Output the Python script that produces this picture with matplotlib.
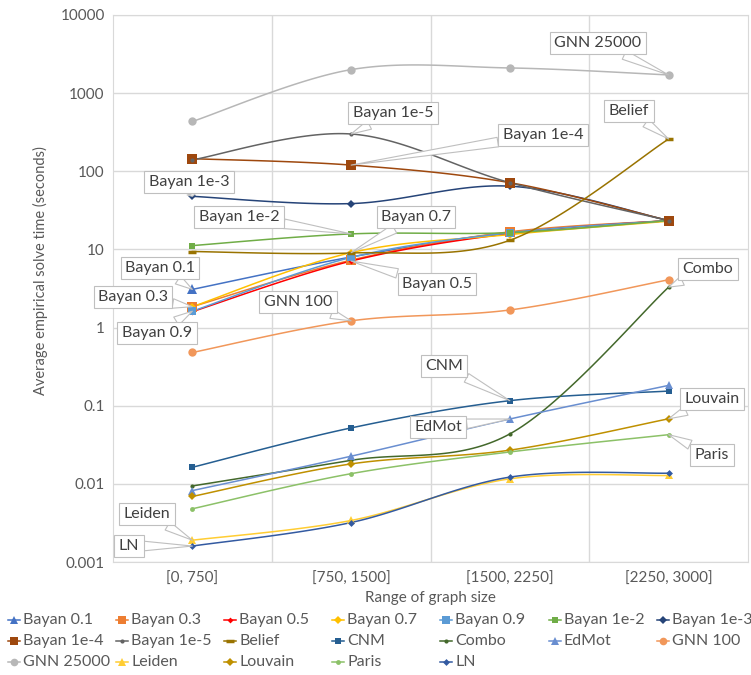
import numpy as np
import matplotlib
matplotlib.use("Agg")
import matplotlib.pyplot as plt
from matplotlib.lines import Line2D
from matplotlib.ticker import FixedLocator, FuncFormatter, NullLocator

plt.rcParams['font.family'] = ['Lato', 'DejaVu Sans']

categories = ["[0, 750]", "[750, 1500]", "[1500, 2250]", "[2250, 3000]"]

names = ["Bayan 0.1", "Bayan 0.3", "Bayan 0.5", "Bayan 0.7", "Bayan 0.9",
         "Bayan 1e-2", "Bayan 1e-3", "Bayan 1e-4", "Bayan 1e-5", "Belief",
         "CNM", "Combo", "EdMot", "GNN 100", "GNN 25000", "Leiden",
         "Louvain", "Paris", "LN"]

bayan_01 = [3.08, 8.0, 16.5, 23.4]
bayan_03 = [1.85, 7.3, 16.8, 23.4]
bayan_05 = [1.6, 7.1, 16.0, 23.4]
bayan_07 = [1.85, 9.1, 15.5, 23.0]
bayan_09 = [1.62, 7.9, 16.3, 23.4]
bayan_1e2 = [11.2, 15.8, 16.4, 23.4]
bayan_1e3 = [47.8, 38.6, 64.5, 23.4]
bayan_1e4 = [145, 120, 71.5, 23.4]
bayan_1e5 = [140, 300, 71.5, 23.4]
belief = [9.4, 9.0, 13.1, 259]
cnm = [0.0163, 0.052, 0.116, 0.154]
combo = [0.0094, 0.020, 0.0436, 3.29]
edmot = [0.0082, 0.0226, 0.0676, 0.182]
gnn_100 = [0.48, 1.22, 1.68, 4.09]
gnn_25000 = [434, 2000, 2100, 1710]
leiden = [0.0019, 0.0034, 0.0116, 0.0128]
louvain = [0.0069, 0.018, 0.027, 0.068]
paris = [0.0048, 0.0135, 0.0256, 0.0426]
ln = [0.0016, 0.0032, 0.0122, 0.0137]

series = [bayan_01, bayan_03, bayan_05, bayan_07, bayan_09, bayan_1e2,
          bayan_1e3, bayan_1e4, bayan_1e5, belief, cnm, combo, edmot,
          gnn_100, gnn_25000, leiden, louvain, paris, ln]

colors = ["#4472C4", "#ED7D31", "#FF0000", "#FFC000", "#5B9BD5", "#70AD47",
          "#264478", "#9E480E", "#636363", "#997300", "#255E91", "#43682B",
          "#698ED0", "#F1975A", "#B7B7B7", "#FFCD33", "#BF9000", "#8CC168",
          "#335AA1"]
markers = ["^", "s", "D", "D", "s", "s", "D", "s", "o", "_", "s", "o",
           "^", "o", "o", "^", "D", "o", "D"]
msizes = [7, 6.5, 3, 4.5, 6, 5, 4, 6.5, 3, 6, 5, 3, 5.5, 6, 6, 5.5, 4, 3.5, 3.5]

# callouts: (series, point index, box centre in image pixels)
callouts = [("GNN 25000", 3, 598, 43), ("Bayan 1e-5", 1, 393, 113),
            ("Bayan 1e-4", 1, 543, 135), ("Belief", 3, 629, 111),
            ("Bayan 1e-3", 0, 189, 182), ("Bayan 1e-2", 1, 239, 217),
            ("Bayan 0.7", 1, 416, 217), ("Bayan 0.1", 0, 160, 268),
            ("Bayan 0.3", 0, 133, 297), ("Bayan 0.9", 0, 157, 333),
            ("Bayan 0.5", 1, 437, 284), ("GNN 100", 1, 298, 302),
            ("Combo", 3, 708, 269), ("CNM", 2, 444, 366),
            ("EdMot", 2, 438, 427), ("Louvain", 3, 712, 399),
            ("Paris", 3, 712, 455), ("Leiden", 0, 147, 514),
            ("LN", 0, 129, 546)]

W, H = 751, 675


def smooth(ys, n=40):
    # Excel-like smoothed line (Catmull-Rom Bezier in screen space)
    p = np.column_stack([np.arange(len(ys), dtype=float), np.log10(ys)])
    xs_out, ys_out = [], []
    t = np.linspace(0, 1, n)[:, None]
    for i in range(len(p) - 1):
        p0 = p[max(i - 1, 0)]
        p1 = p[i]
        p2 = p[i + 1]
        p3 = p[min(i + 2, len(p) - 1)]
        c1 = p1 + (p2 - p0) / 6
        c2 = p2 - (p3 - p1) / 6
        b = ((1 - t) ** 3) * p1 + 3 * ((1 - t) ** 2) * t * c1 \
            + 3 * (1 - t) * t ** 2 * c2 + t ** 3 * p2
        xs_out.append(b[:, 0])
        ys_out.append(b[:, 1])
    return np.concatenate(xs_out), 10 ** np.concatenate(ys_out)


fig = plt.figure(figsize=(W / 100, H / 100), dpi=100)
ax = fig.add_axes([113 / W, 1 - 562 / H, (748 - 113) / W, (562 - 15) / H])

x = np.arange(len(categories))
for name, ys, c, m, ms in zip(names, series, colors, markers, msizes):
    sx, sy = smooth(ys)
    ax.plot(sx, sy, color=c, lw=1.1, zorder=2)
    mew = 2.5 if m == "_" else 0
    ax.plot(x, ys, ls="", marker=m, ms=ms, color=c, mec=c, mew=mew, zorder=3)

ax.set_yscale("log")
ax.set_ylim(0.001, 10000)
ax.set_xlim(-0.5, 3.5)
ax.yaxis.set_major_locator(FixedLocator([10.0 ** k for k in range(-3, 5)]))
ax.yaxis.set_minor_locator(NullLocator())
ax.yaxis.set_major_formatter(FuncFormatter(lambda v, p: f"{v:g}"))
ax.set_xticks(x)
ax.set_xticklabels(categories)
ax.set_xticks([0.5, 1.5, 2.5], minor=True)
ax.grid(True, which="major", axis="y", color="#D9D9D9", lw=1)
ax.grid(True, which="minor", axis="x", color="#D9D9D9", lw=1)
ax.tick_params(which="both", length=0, labelsize=11, colors="#595959")
ax.tick_params(axis="x", pad=7)
ax.tick_params(axis="y", pad=6)
for s in ax.spines.values():
    s.set_color("#D9D9D9")
ax.set_axisbelow(True)

fig.text(40 / W, 1 - 271 / H, "Average empirical solve time (seconds)",
         rotation=90, ha="center", va="center", fontsize=10.5, color="#595959")
fig.text(430 / W, 1 - 598 / H, "Range of graph size", ha="center",
         va="center", fontsize=11, color="#595959")

for label, idx, bx, by in callouts:
    ys = series[names.index(label)]
    ax.annotate(label, xy=(idx, ys[idx]), xycoords="data",
                xytext=(bx, H - by), textcoords="figure pixels",
                ha="center", va="center", fontsize=11.5, color="#404040",
                bbox=dict(boxstyle="square,pad=0.28", fc="white",
                          ec="#BFBFBF", lw=0.8),
                arrowprops=dict(arrowstyle="wedge,tail_width=0.6",
                                fc="white", ec="#BFBFBF", lw=0.8,
                                shrinkA=0, shrinkB=0),
                zorder=5)

# legend laid out like Excel: 7 equal columns
for i, (name, c, m, ms) in enumerate(zip(names, colors, markers, msizes)):
    col, row = i % 7, i // 7
    lx = 14 + col * 108.1
    ly = 620 + row * 21
    mew = 2.5 if m == "_" else 0
    fig.add_artist(Line2D([(lx - 6) / W, lx / W, (lx + 6) / W],
                          [1 - ly / H] * 3, color=c, lw=1.1, marker=m,
                          ms=min(ms, 5.5), mec=c, mew=mew, markevery=[1],
                          transform=fig.transFigure))
    fig.text((lx + 9) / W, 1 - ly / H, name, ha="left", va="center",
             fontsize=11.5, color="#595959")

fig.savefig("out.png", dpi=100)
